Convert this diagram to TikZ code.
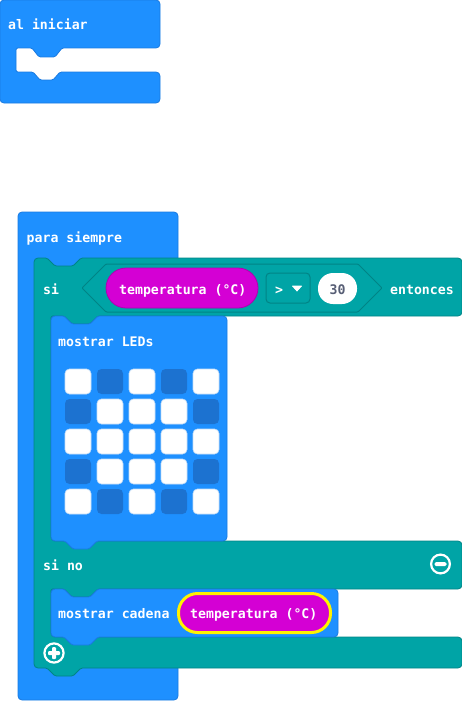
\documentclass[tikz,border=0pt]{standalone}
\usepackage{fontspec}
\newfontfamily\blk{DejaVu Sans Mono}
\definecolor{blkblue}{HTML}{1E90FF}
\definecolor{blkblueD}{HTML}{1A7AE0}
\definecolor{blkteal}{HTML}{00A4A6}
\definecolor{blktealD}{HTML}{008486}
\definecolor{ledoffc}{HTML}{1C72D0}
\definecolor{lededge}{HTML}{C4DDF7}
\definecolor{blkmag}{HTML}{D400D4}
\definecolor{blkmagD}{HTML}{B000B0}
\definecolor{blkyel}{HTML}{FFF200}
\definecolor{numtxt}{HTML}{575E75}
\begin{document}
\begin{tikzpicture}[x=1pt,y=-1pt,
  lbl/.style={inner sep=0pt, anchor=base west, text=white, font=\blk\bfseries\fontsize{13.2}{15}\selectfont},
  bluebk/.style={fill=blkblue, draw=blkblueD, line width=0.8pt, rounded corners=4pt},
  tealbk/.style={fill=blkteal, draw=blktealD, line width=0.8pt, rounded corners=4pt},
  ledon/.style={fill=white, draw=lededge, line width=0.7pt, rounded corners=4.5pt},
  ledoff/.style={fill=ledoffc, rounded corners=4.5pt},
  icon/.style={draw=white, line width=2.2pt},
  nc/.style={rounded corners=1.5pt},
  oc/.style={rounded corners=4pt},
]
\useasboundingbox (0,0) rectangle (462,701);

% al iniciar
\path[bluebk] (0,0) -- (160,0) -- (160,48) [nc] -- (62,48) -- (55,57) -- (39,57) -- (32,48)
  -- (16,48) -- (16,72) -- (33,72) -- (40,80) -- (53,80) -- (60,72) [oc] -- (160,72)
  -- (160,103) -- (0,103) -- cycle;
\node[lbl] (tinit) at (8,29.5) {al iniciar};

% para siempre
\path[bluebk] (18,212) rectangle (178,700);
\node[lbl] (tfor) at (26.5,242) {para siempre};

% si / si no block
\path[tealbk] (34,258) [nc] -- (47,258) -- (55,266) -- (73,266) -- (81,258) [oc] -- (462,258)
  -- (462,316) [nc] -- (98,316) -- (90,324) -- (72,324) -- (64,316) -- (51,316)
  [oc] -- (51,541) -- (462,541) -- (462,589) [nc] -- (98,589) -- (90,597) -- (72,597) -- (64,589)
  -- (51,589) [oc] -- (51,637) -- (462,637) -- (462,668) [nc] -- (81,668) -- (73,676) -- (55,676)
  -- (47,668) [oc] -- (34,668) -- cycle;
\node[lbl] (tsi) at (43,294) {si};

% condition hexagon
\path[fill=blkteal, draw=blktealD, line width=1pt, rounded corners=1pt]
  (82,288) -- (106,264) -- (358,264) -- (382,288) -- (358,312) -- (106,312) -- cycle;
\path[fill=blkmag, draw=blkmagD, line width=0.8pt, rounded corners=20pt] (106,268) rectangle (258,308);
\node[lbl] (ttemp1) at (119,294) {temperatura (°C)};
\path[fill=blkteal, draw=blktealD, line width=1pt, rounded corners=4pt] (266,273) rectangle (310,303);
\node[lbl] (top) at (275,294) {>};
\path[fill=white, draw=white, line width=0.8pt, line join=round] (292.5,286) -- (301.5,286) -- (297,291) -- cycle;
\path[fill=white, rounded corners=15pt] (318,273) rectangle (357,304);
\node[lbl, anchor=base, text=numtxt] (tnum) at (337.5,294) {30};
\node[lbl] (tthen) at (390,294) {entonces};

% mostrar LEDs
\path[bluebk] (51,316) [nc] -- (64,316) -- (72,324) -- (90,324) -- (98,316) [oc] -- (227,316)
  -- (227,541) [nc] -- (97,541) -- (89,549) -- (73,549) -- (65,541) [oc] -- (51,541) -- cycle;
\node[lbl] (tleds) at (58,346) {mostrar LEDs};
% LED grid
\foreach \r/\pat in {0/{1,0,1,0,1},1/{0,1,1,1,0},2/{1,1,1,1,1},3/{0,1,1,1,0},4/{1,0,1,0,1}}{
  \foreach \v [count=\c from 0] in \pat {
    \pgfmathsetmacro{\xx}{65+32*\c}
    \pgfmathsetmacro{\yy}{369+30*\r}
    \ifnum\v=1
      \path[ledon] (\xx,\yy) rectangle ++(26,25);
    \else
      \path[ledoff] (\xx,\yy) rectangle ++(26,25);
    \fi
  }
}

% si no
\node[lbl] (telse) at (43,570) {si no};
\path[icon] (440.5,564) circle (9.4pt);
\path[fill=white, rounded corners=1.5pt] (434.5,562) rectangle (446.5,566.2);

% mostrar cadena
\path[bluebk] (51,589) [nc] -- (64,589) -- (72,597) -- (90,597) -- (98,589) [oc] -- (338,589)
  -- (338,637) [nc] -- (98,637) -- (90,645) -- (72,645) -- (64,637) [oc] -- (51,637) -- cycle;
\node[lbl] (tstr) at (58,618) {mostrar cadena};
\path[fill=blkmag, draw=blkyel, line width=3pt, rounded corners=19pt] (178.5,593.5) rectangle (330.5,632.5);
\node[lbl] (ttemp2) at (190,618) {temperatura (°C)};

% plus icon
\path[icon] (54,653) circle (9.6pt);
\path[fill=white, rounded corners=1pt] (48,651) rectangle (60,655);
\path[fill=white, rounded corners=1pt] (52,647) rectangle (56,659);
\end{tikzpicture}
\end{document}
